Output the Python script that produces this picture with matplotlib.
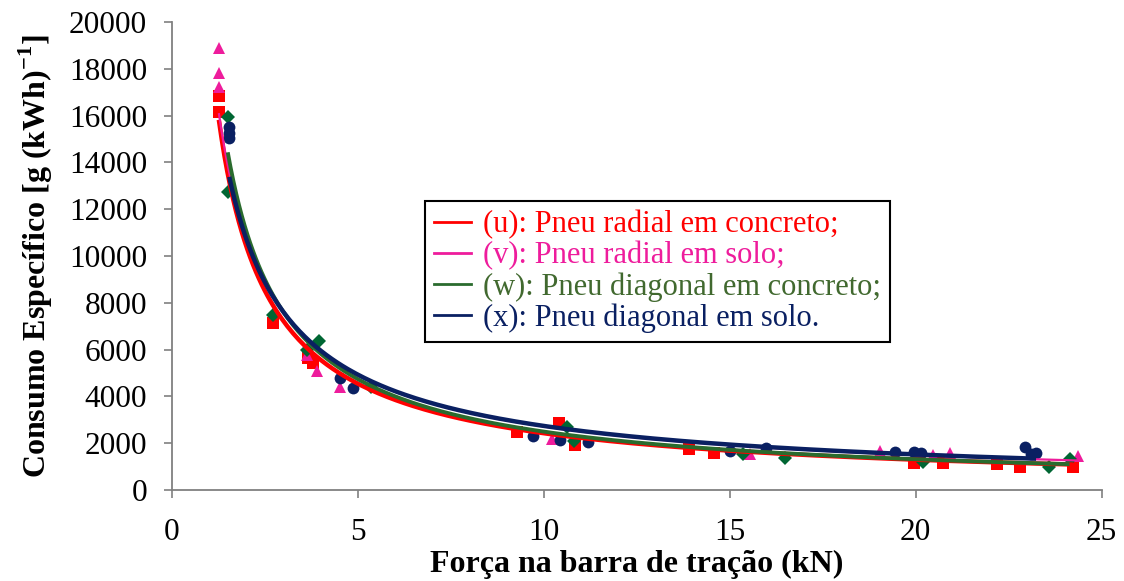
import numpy as np
import matplotlib
matplotlib.use('Agg')
import matplotlib.pyplot as plt
from matplotlib.lines import Line2D

plt.rcParams['font.family'] = ['Liberation Serif', 'DejaVu Serif']
plt.rcParams['mathtext.fontset'] = 'custom'
plt.rcParams['mathtext.rm'] = 'Liberation Serif'
plt.rcParams['mathtext.bf'] = 'Liberation Serif:bold'

# (u) Pneu radial em concreto
u_x = [1.26, 1.26, 2.71, 3.66, 3.80, 9.27, 10.40, 10.83, 13.90, 14.58, 19.97, 20.73, 22.20, 22.80, 24.23]
u_y = [16850, 16150, 7150, 5630, 5410, 2490, 2880, 1920, 1750, 1570, 1170, 1170, 1120, 990, 990]

# (v) Pneu radial em solo
v_x = [1.26, 1.26, 1.26, 3.62, 3.89, 4.53, 10.21, 15.54, 19.03, 20.47, 20.93, 24.37]
v_y = [18890, 17800, 17240, 5770, 5080, 4390, 2170, 1540, 1680, 1500, 1570, 1470]

# (w) Pneu diagonal em concreto
w_x = [1.52, 1.50, 2.72, 3.62, 3.95, 5.34, 10.63, 10.81, 15.36, 16.48, 20.20, 23.60, 24.14]
w_y = [15950, 12750, 7480, 5980, 6370, 4410, 2710, 2100, 1540, 1350, 1210, 990, 1310]

# (x) Pneu diagonal em solo
x_x = [1.54, 1.54, 1.54, 4.53, 4.87, 9.70, 10.43, 11.19, 15.00, 15.98, 19.44, 19.97, 20.15, 22.93, 23.24, 23.10]
x_y = [15530, 15250, 15030, 4770, 4350, 2310, 2140, 2070, 1680, 1780, 1640, 1640, 1600, 1830, 1580, 1520]

# power trendlines y = a * x^b, coefficients
trend_a = [19500, 19650, 21000, 19300]
trend_b = [-0.905, -0.860, -0.925, -0.848]

labels = [
    '(u): Pneu radial em concreto;',
    '(v): Pneu radial em solo;',
    '(w): Pneu diagonal em concreto;',
    '(x): Pneu diagonal em solo.',
]
marker_colors = ['#FF0000', '#EE1C9C', '#006633', '#0A2062']
line_colors = ['#FF0000', '#EE1C9C', '#2A6B2E', '#0A2062']
text_colors = ['#FF0000', '#EE1C9C', '#41692F', '#0A2062']
markers = ['s', '^', 'D', 'o']
marker_sizes = [9, 9, 7, 8.5]
line_widths = [3.2, 1.6, 2.8, 3.2]

series = [(u_x, u_y), (v_x, v_y), (w_x, w_y), (x_x, x_y)]

fig = plt.figure(figsize=(11.24, 5.81), dpi=100)
ax = fig.add_axes([0.153, 0.1566, 0.827, 0.8055])

for i, (xs, ys) in enumerate(series):
    ax.plot(xs, ys, linestyle='none', marker=markers[i], markersize=marker_sizes[i],
            color=marker_colors[i], markeredgewidth=0, zorder=2)

for i, (xs, ys) in enumerate(series):
    xt = np.linspace(min(xs), max(xs), 300)
    ax.plot(xt, trend_a[i] * xt ** trend_b[i], color=line_colors[i],
            linewidth=line_widths[i], zorder=3 + i, solid_capstyle='butt')

ax.set_xlim(0, 25)
ax.set_ylim(0, 20000)
ax.set_xticks(range(0, 26, 5))
ax.set_yticks(range(0, 20001, 2000))

for side in ['top', 'right']:
    ax.spines[side].set_visible(False)
for side in ['left', 'bottom']:
    ax.spines[side].set_color('#808080')
    ax.spines[side].set_linewidth(1.3)
ax.tick_params(direction='out', length=6, width=1.2, color='#808080',
               labelsize=22.5)
ax.tick_params(axis='y', pad=12)
ax.tick_params(axis='x', pad=14)

ax.set_xlabel('Força na barra de tração (kN)', fontsize=23, fontweight='bold', labelpad=2)
ax.set_ylabel(r'Consumo Específico [g (kWh)$^{\mathbf{-1}}$]', fontsize=23,
              fontweight='bold', labelpad=10)

handles = [Line2D([0], [0], color=c, linewidth=2) for c in line_colors]
leg = ax.legend(handles, labels, loc='upper left', bbox_to_anchor=(0.272, 0.617),
                fontsize=22, frameon=True, fancybox=False, framealpha=1,
                edgecolor='black', handlelength=1.2, handletextpad=0.4,
                labelspacing=0.05, borderpad=0.3, borderaxespad=0)
leg.get_frame().set_linewidth(1.5)
for t, c in zip(leg.get_texts(), text_colors):
    t.set_color(c)

fig.savefig('out.png', dpi=100)
